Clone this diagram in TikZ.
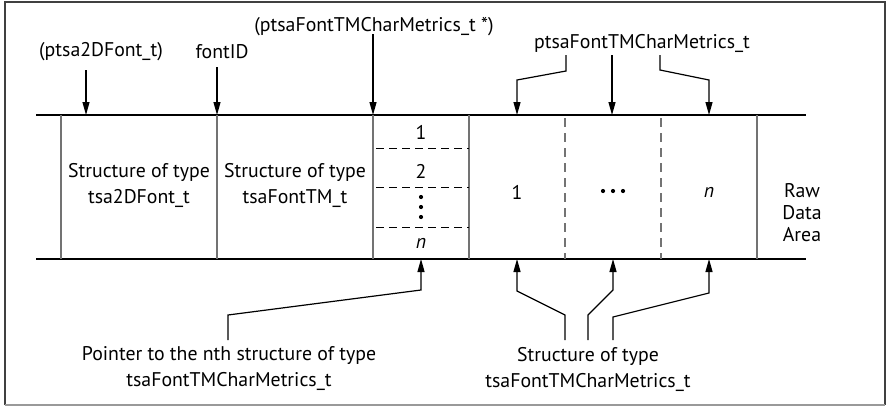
\documentclass[tikz,border=0pt]{standalone}
\usepackage{fontspec}
\setmainfont{PT Sans}
\usetikzlibrary{arrows.meta}
\begin{document}
\begin{tikzpicture}[x=1pt,y=-1pt,
  lbl/.style={font=\fontsize{19.8}{26}\selectfont, inner sep=0pt, align=center},
  band/.style={line width=1.3pt, black},
  sep/.style={line width=1.4pt, black!55},
  dsep/.style={line width=1.4pt, black!55, dash pattern=on 9pt off 6pt},
  hdash/.style={line width=0.9pt, black, dash pattern=on 8pt off 5pt},
  ptr/.style={line width=1.2pt, -{Triangle[length=13pt,width=7pt]}},
  dot/.style={circle, fill=black, inner sep=0pt, minimum size=4.2pt}]
\useasboundingbox (0,0) rectangle (889,407);
% frame
\draw[line width=1.6pt, black!75] (5,405) -- (5,2) -- (885,2) -- (885,405);
\draw[line width=1.6pt, black!40] (5,405) -- (885,405);
% band
\draw[band] (36,115) -- (806,115);
\draw[band] (36,259) -- (806,259);
\foreach \x in {61,217,373,469,757} \draw[sep] (\x,115) -- (\x,259);
\foreach \x in {565,661} \draw[dsep] (\x,118) -- (\x,259);
\foreach \y in {148,187,227} \draw[hdash] (376,\y) -- (469,\y);
% cell texts
\node[lbl] (s1) at (139,185) {Structure of type\\tsa2DFont\_t};
\node[lbl] (s2) at (295,185) {Structure of type\\tsaFontTM\_t};
\node[lbl] (p1) at (421,132) {1};
\node[lbl] (p2) at (421,171) {2};
\node[dot] (vd1) at (421,197) {};
\node[dot] (vd2) at (421,207) {};
\node[dot] (vd3) at (421,217) {};
\node[lbl] (pn) at (421,243) {\itshape n};
\node[lbl] (c1) at (517,192) {1};
\node[dot] (hd1) at (603,191) {};
\node[dot] (hd2) at (613,191) {};
\node[dot] (hd3) at (623,191) {};
\node[lbl] (cn) at (709,192) {\itshape n};
\node[lbl, font=\fontsize{19.8}{22}\selectfont] (raw) at (802,213) {Raw\\Data\\Area};
% top labels
\node[lbl] (l2d) at (101,52) {(ptsa2DFont\_t)};
\node[lbl] (lid) at (222,52) {fontID};
\node[lbl] (lptr) at (374,27) {(ptsaFontTMCharMetrics\_t *)};
\node[lbl] (lcm) at (642,43) {ptsaFontTMCharMetrics\_t};
% bottom labels
\node[lbl] (bptr) at (229,369) {Pointer to the nth structure of type\\tsaFontTMCharMetrics\_t};
\node[lbl] (bst) at (588,369) {Structure of type\\tsaFontTMCharMetrics\_t};
% coordinates
\coordinate (a1s) at (86,70);  \coordinate (a1e) at (86,115);
\coordinate (a2s) at (217,67); \coordinate (a2e) at (217,115);
\coordinate (a3s) at (373,34); \coordinate (a3e) at (373,115);
\coordinate (t1s) at (566,55); \coordinate (t1e) at (517,115);
\coordinate (t2s) at (612,55); \coordinate (t2e) at (612,115);
\coordinate (t3s) at (660,55); \coordinate (t3e) at (709,115);
\coordinate (bps) at (228,340); \coordinate (bpe) at (421,259);
\coordinate (b1s) at (565,340); \coordinate (b1e) at (517,259);
\coordinate (b2s) at (588,340); \coordinate (b2e) at (613,259);
\coordinate (b3s) at (613,340); \coordinate (b3e) at (709,259);
% arrows
\draw[ptr] (a1s) -- (a1e);
\draw[ptr] (a2s) -- (a2e);
\draw[ptr] (a3s) -- (a3e);
\draw[ptr] (t1s) -- (566,71) -- (517,80) -- (t1e);
\draw[ptr] (t2s) -- (t2e);
\draw[ptr] (t3s) -- (660,70) -- (709,80) -- (t3e);
\draw[ptr] (bps) -- (228,315) -- (421,290) -- (bpe);
\draw[ptr] (b1s) -- (565,315) -- (517,291) -- (b1e);
\draw[ptr] (b2s) -- (588,315) -- (613,290) -- (b2e);
\draw[ptr] (b3s) -- (613,317) -- (709,293) -- (b3e);
\end{tikzpicture}
\end{document}
